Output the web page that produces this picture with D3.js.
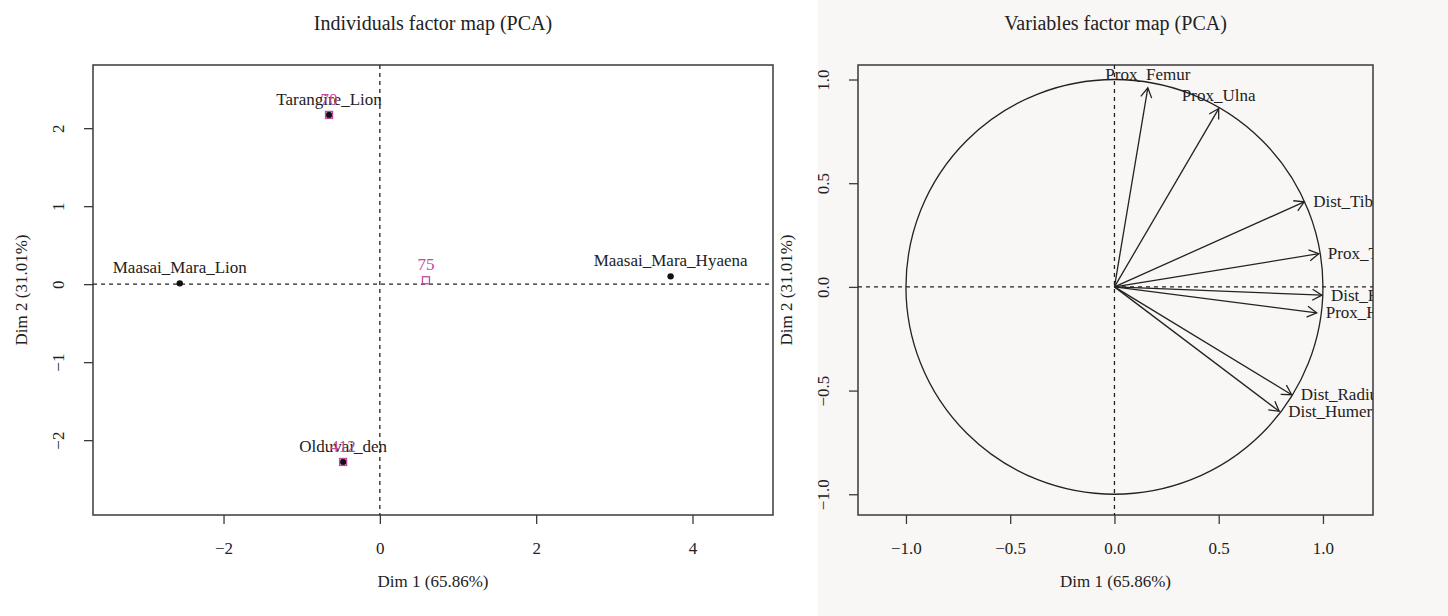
<!DOCTYPE html>
<html><head><meta charset="utf-8">
<script src="https://cdn.jsdelivr.net/npm/d3@7/dist/d3.min.js"></script>
<style>body{margin:0;background:#fff}svg text{font-family:"Liberation Serif","Times New Roman",serif;fill:#222}</style>
</head><body><svg id="c" width="1448" height="616"></svg>
<script>
// ---- data ----
const indNames = ["Maasai_Mara_Lion","Tarangire_Lion","Olduvai_den","Maasai_Mara_Hyaena"];
const indDim1 = [-2.56, -0.65, -0.47, 3.72];
const indDim2 = [0.01, 2.17, -2.28, 0.10];
const supNames = ["70","412","75"];
const supDim1 = [-0.65, -0.47, 0.59];
const supDim2 = [2.17, -2.28, 0.05];
const varNames = ["Prox_Femur","Prox_Ulna","Dist_Tibia","Prox_Tibia","Dist_Femur","Prox_Humerus","Dist_Radius","Dist_Humerus"];
const varDim1 = [0.16, 0.50, 0.91, 0.98, 0.995, 0.97, 0.85, 0.79];
const varDim2 = [0.96, 0.86, 0.41, 0.16, -0.04, -0.125, -0.52, -0.60];
const leftXTicks = [-2, 0, 2, 4];
const leftYTicks = [-2, -1, 0, 1, 2];
const rightTicks = [-1.0, -0.5, 0.0, 0.5, 1.0];
const titles = ["Individuals factor map (PCA)", "Variables factor map (PCA)"];
const xLabel = "Dim 1 (65.86%)", yLabel = "Dim 2 (31.01%)";

const svg = d3.select("#c");
const FS = 17, INK = "#222", BOX = "#3a3a3a", SUP = "#c2479f";
svg.append("rect").attr("x",818).attr("y",0).attr("width",630).attr("height",616).attr("fill","#f9f7f6");

function minusFmt(v, dec){ const s = Math.abs(v).toFixed(dec); return v < 0 ? "\u2212"+s : s; }

function panel(opt){
  const {x, y, id, xt, yt, dec, title} = opt;
  const g = svg.append("g");
  const [x0,x1] = x.range(), [y0,y1] = y.range(); // y0 bottom
  g.append("defs").append("clipPath").attr("id",id).append("rect")
    .attr("x",x0).attr("y",y1).attr("width",x1-x0).attr("height",y0-y1);
  // x axis
  const xa = g.append("g").attr("transform",`translate(0,${y0})`)
    .call(d3.axisBottom(x).tickValues(xt).tickSize(9).tickPadding(18).tickFormat(d=>minusFmt(d,dec)));
  const ya = g.append("g").attr("transform",`translate(${x0},0)`)
    .call(d3.axisLeft(y).tickValues(yt).tickSize(9).tickPadding(0).tickFormat(d=>minusFmt(d,dec)));
  [xa,ya].forEach(a=>{a.select(".domain").remove();a.selectAll("line").attr("stroke",BOX).attr("stroke-width",1.3);
    a.selectAll("text").attr("font-size",FS).attr("fill",INK).style("font-family","Liberation Serif");});
  ya.selectAll(".tick text").attr("text-anchor","middle").attr("x",null).attr("dy",null)
    .attr("transform",`translate(${-34},0) rotate(-90)`).attr("y",0).attr("dy","0.32em");
  // frame
  g.append("rect").attr("x",x0).attr("y",y1).attr("width",x1-x0).attr("height",y0-y1)
    .attr("fill","none").attr("stroke",BOX).attr("stroke-width",1.5);
  // titles
  g.append("text").attr("x",(x0+x1)/2).attr("y",30).attr("text-anchor","middle").attr("font-size",20).text(title);
  g.append("text").attr("x",(x0+x1)/2).attr("y",587).attr("text-anchor","middle").attr("font-size",FS).text(xLabel);
  g.append("text").attr("transform",`translate(${x0-66},${(y0+y1)/2}) rotate(-90)`).attr("text-anchor","middle")
    .attr("font-size",FS).text(yLabel);
  const inner = g.append("g").attr("clip-path",`url(#${id})`);
  inner.append("line").attr("x1",x(0)).attr("x2",x(0)).attr("y1",y1).attr("y2",y0)
    .attr("stroke",INK).attr("stroke-dasharray","4,4").attr("stroke-width",1.3);
  inner.append("line").attr("y1",y(0)).attr("y2",y(0)).attr("x1",x0).attr("x2",x1)
    .attr("stroke",INK).attr("stroke-dasharray","4,4").attr("stroke-width",1.3);
  return inner;
}

// ---- left panel ----
const xL = d3.scaleLinear().domain([-3.67, 5.03]).range([93, 773]);
const yL = d3.scaleLinear().domain([-2.96, 2.81]).range([515, 65]);
const gL = panel({x:xL, y:yL, id:"clipL", xt:leftXTicks, yt:leftYTicks, dec:0, title:titles[0]});
indNames.forEach((n,i)=>{
  gL.append("circle").attr("cx",xL(indDim1[i])).attr("cy",yL(indDim2[i])).attr("r",3.2).attr("fill","#111");
});
supNames.forEach((n,i)=>{
  gL.append("rect").attr("x",xL(supDim1[i])-3.5).attr("y",yL(supDim2[i])-3.5).attr("width",7).attr("height",7)
    .attr("fill","none").attr("stroke",SUP).attr("stroke-width",1.3);
});
indNames.forEach((n,i)=>{
  gL.append("text").attr("x",xL(indDim1[i])).attr("y",yL(indDim2[i])-10).attr("text-anchor","middle")
    .attr("font-size",FS).text(n);
});
supNames.forEach((n,i)=>{
  gL.append("text").attr("x",xL(supDim1[i])).attr("y",yL(supDim2[i])-10).attr("text-anchor","middle")
    .attr("font-size",FS).style("fill",SUP).text(n);
});

// ---- right panel ----
const xR = d3.scaleLinear().domain([-1.23, 1.24]).range([858, 1373]);
const yR = d3.scaleLinear().domain([-1.10, 1.07]).range([515, 65]);
const gR = panel({x:xR, y:yR, id:"clipR", xt:rightTicks, yt:rightTicks, dec:1, title:titles[1]});
gR.append("ellipse").attr("cx",xR(0)).attr("cy",yR(0)).attr("rx",xR(1)-xR(0)).attr("ry",yR(0)-yR(1))
  .attr("fill","none").attr("stroke",INK).attr("stroke-width",1.3);
varNames.forEach((n,i)=>{
  const X = xR(varDim1[i]), Y = yR(varDim2[i]), X0 = xR(0), Y0 = yR(0);
  const ang = Math.atan2(Y-Y0, X-X0), L = 11, a = Math.PI/6;
  gR.append("line").attr("x1",X0).attr("y1",Y0).attr("x2",X).attr("y2",Y).attr("stroke",INK).attr("stroke-width",1.3);
  gR.append("path").attr("d",`M${X-L*Math.cos(ang-a)},${Y-L*Math.sin(ang-a)}L${X},${Y}L${X-L*Math.cos(ang+a)},${Y-L*Math.sin(ang+a)}`)
    .attr("fill","none").attr("stroke",INK).attr("stroke-width",1.3);
  const above = Math.abs(varDim2[i]) > Math.abs(varDim1[i]);
  const t = gR.append("text").attr("font-size",FS).text(n);
  if (above) t.attr("x",X).attr("y",Y-8).attr("text-anchor","middle");
  else t.attr("x",X+9).attr("y",Y).attr("dy","0.32em").attr("text-anchor","start");
});
</script></body></html>
